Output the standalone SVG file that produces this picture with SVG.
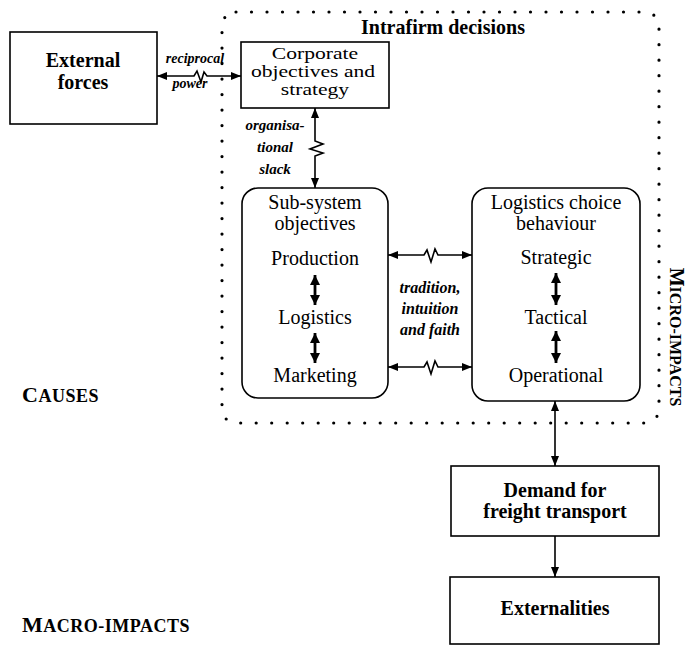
<svg xmlns="http://www.w3.org/2000/svg" width="690" height="645" viewBox="0 0 690 645">
  <defs>
    <style>
      .bg { fill: #fff; }
      .box { fill: #fff; stroke: #000; stroke-width: 1.6; }
      .frame { fill: none; stroke: #000; stroke-width: 3.2; stroke-dasharray: 0 15.5; stroke-linecap: round; }
      .ln { fill: none; stroke: #000; stroke-width: 1.6; }
      .thick { stroke-width: 2.8; }
      .t { font-family: "Liberation Serif", "Times New Roman", serif; font-size: 20px; text-anchor: middle; fill: #000; }
      .b { font-weight: bold; }
      .it { font-style: italic; font-weight: bold; }
      .sc { text-anchor: start; font-weight: bold; font-size: 22px; letter-spacing: 0.5px; }
      .sm { font-size: 18px; }
      .corp { font-size: 16px; }
    </style>
    <marker id="ah" viewBox="0 0 10 8" refX="10" refY="4" markerWidth="10" markerHeight="8" markerUnits="userSpaceOnUse" orient="auto-start-reverse">
      <path d="M0,0 L10,4 L0,8 Z" fill="#000"/>
    </marker>
    <marker id="ahb" viewBox="0 0 10 10" refX="10" refY="5" markerWidth="10" markerHeight="11" markerUnits="userSpaceOnUse" orient="auto-start-reverse">
      <path d="M0,0 L10,5 L0,10 Z" fill="#000"/>
    </marker>
  </defs>

  <rect class="bg" x="0" y="0" width="690" height="645"/>

  <!-- intrafirm boundary -->
  <g id="intrafirm">
    <rect class="frame" x="222" y="12" width="437" height="411" rx="14"/>
    <text class="t b" x="443" y="34">Intrafirm decisions</text>
  </g>

  <g id="external-forces">
    <rect class="box" x="10" y="32" width="147" height="92"/>
    <text class="t b" x="83" y="67">External</text>
    <text class="t b" x="83" y="89">forces</text>
  </g>

  <!-- box text is set wide to fill the narrow box -->
  <g id="corporate">
    <rect class="box" x="241" y="42" width="148" height="66"/>
    <text class="t corp" transform="translate(315,59) scale(1.35,1)">Corporate</text>
    <text class="t corp" transform="translate(313,77) scale(1.35,1)">objectives and</text>
    <text class="t corp" transform="translate(315,95) scale(1.35,1)">strategy</text>
  </g>

  <g id="subsystem">
    <rect class="box" x="242" y="188" width="146" height="210" rx="16"/>
    <text class="t" x="315" y="209">Sub-system</text>
    <text class="t" x="315" y="230">objectives</text>
    <text class="t" x="315" y="265">Production</text>
    <text class="t" x="315" y="324">Logistics</text>
    <text class="t" x="315" y="382">Marketing</text>
  </g>

  <g id="logistics-choice">
    <rect class="box" x="472" y="188" width="168" height="213" rx="16"/>
    <text class="t" x="556" y="209">Logistics choice</text>
    <text class="t" x="556" y="230">behaviour</text>
    <text class="t" x="556" y="264">Strategic</text>
    <text class="t" x="556" y="324">Tactical</text>
    <text class="t" x="556" y="382">Operational</text>
  </g>

  <g id="demand">
    <rect class="box" x="451" y="466" width="208" height="70"/>
    <text class="t b" x="555" y="497">Demand for</text>
    <text class="t b" x="555" y="518">freight transport</text>
  </g>

  <g id="externalities">
    <rect class="box" x="450" y="577" width="209" height="67"/>
    <text class="t b" x="555" y="615">Externalities</text>
  </g>

  <!-- connector labels -->
  <g id="labels">
    <text class="t it" style="font-size:14px" x="195" y="63">reciprocal</text>
    <text class="t it" style="font-size:14px" x="190" y="88">power</text>
    <text class="t it" style="font-size:15px" x="275" y="130">organisa-</text>
    <text class="t it" style="font-size:15px" x="275" y="152">tional</text>
    <text class="t it" style="font-size:15px" x="275" y="174">slack</text>
    <text class="t it" style="font-size:16px" x="430" y="293">tradition,</text>
    <text class="t it" style="font-size:16px" x="430" y="314">intuition</text>
    <text class="t it" style="font-size:16px" x="430" y="335">and faith</text>
  </g>

  <!-- level captions -->
  <g id="captions">
    <text class="t sc" x="22" y="402">C<tspan class="sm">AUSES</tspan></text>
    <text class="t sc" x="22" y="632">M<tspan class="sm">ACRO-IMPACTS</tspan></text>
    <text class="t sc" style="text-anchor:middle; font-size:20px; letter-spacing:0" transform="translate(670,337) rotate(90)">M<tspan style="font-size:16px">ICRO-IMPACTS</tspan></text>
  </g>

  <g id="connectors">
    <path class="ln" d="M157,76 H194 L197,71 L201,82 L204,72 L207,76 H241" marker-start="url(#ah)" marker-end="url(#ah)"/>
    <path class="ln" d="M315,108 V141 L323,144 L310,149 L323,153 L315,156 V188" marker-start="url(#ah)" marker-end="url(#ah)"/>
    <path class="ln" d="M388,255 H424 L427,250 L431,262 L435,249 L438,255 H472" marker-start="url(#ah)" marker-end="url(#ah)"/>
    <path class="ln" d="M388,367 H424 L427,362 L431,374 L435,361 L438,367 H472" marker-start="url(#ah)" marker-end="url(#ah)"/>
    <path class="ln thick" d="M315,275 V305" marker-start="url(#ahb)" marker-end="url(#ahb)"/>
    <path class="ln thick" d="M315,333 V363" marker-start="url(#ahb)" marker-end="url(#ahb)"/>
    <path class="ln thick" d="M556,273 V305" marker-start="url(#ahb)" marker-end="url(#ahb)"/>
    <path class="ln thick" d="M556,331 V363" marker-start="url(#ahb)" marker-end="url(#ahb)"/>
    <path class="ln" d="M555,401 V466" marker-start="url(#ah)" marker-end="url(#ah)"/>
    <path class="ln" d="M555,536 V577" marker-end="url(#ah)"/>
  </g>
</svg>
